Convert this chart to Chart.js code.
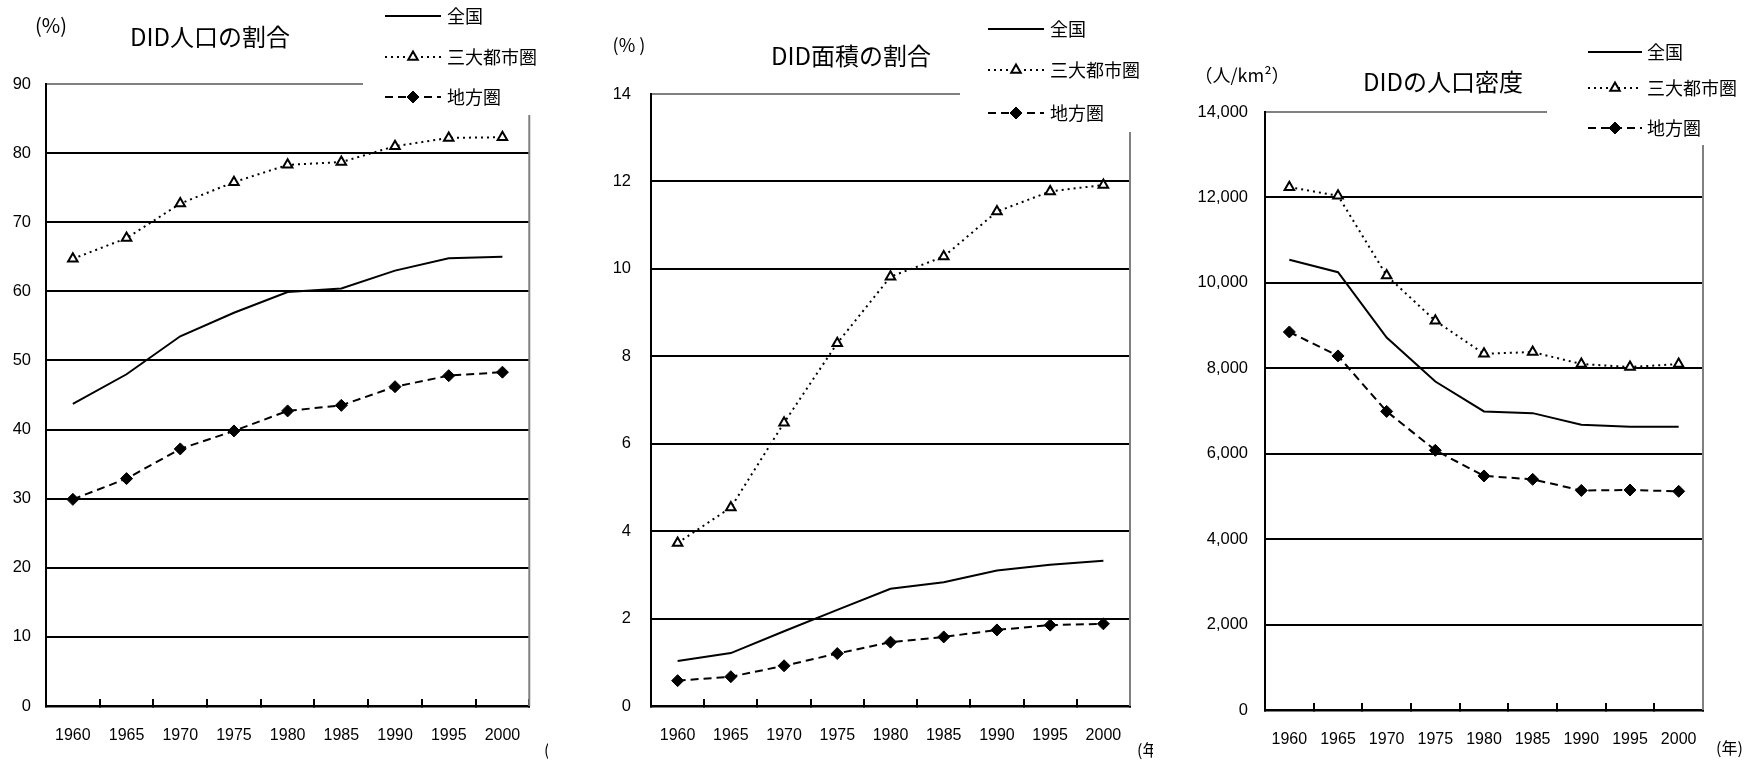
<!DOCTYPE html>
<html><head><meta charset="utf-8">
<script src="https://cdn.jsdelivr.net/npm/chart.js@4.4.1/dist/chart.umd.min.js"></script>
<style>
html,body{margin:0;padding:0;background:#fff;width:1751px;height:761px;overflow:hidden;}
canvas{position:absolute;top:0;}
</style></head><body>
<canvas id="c1" width="548" height="761" style="left:0px"></canvas>
<canvas id="c2" width="563" height="761" style="left:590px"></canvas>
<canvas id="c3" width="571" height="761" style="left:1180px"></canvas>
<script>
const years = ['1960','1965','1970','1975','1980','1985','1990','1995','2000'];
const seriesNames = ['全国','三大都市圏','地方圏'];

// DID人口の割合 (%)
const popNational = [43.7, 48.0, 53.5, 56.9, 59.9, 60.4, 63.0, 64.8, 65.0];
const popMetro    = [64.7, 67.7, 72.7, 75.8, 78.3, 78.7, 81.0, 82.2, 82.3];
const popLocal    = [29.9, 32.9, 37.2, 39.8, 42.7, 43.5, 46.2, 47.8, 48.3];

// DID面積の割合 (%)
const areaNational = [1.03, 1.21, 1.71, 2.2, 2.68, 2.83, 3.1, 3.23, 3.32];
const areaMetro    = [3.73, 4.54, 6.48, 8.3, 9.82, 10.28, 11.31, 11.77, 11.92];
const areaLocal    = [0.58, 0.67, 0.92, 1.2, 1.46, 1.58, 1.74, 1.85, 1.88];

// DIDの人口密度 (人/km²)
const densNational = [10540, 10250, 8720, 7690, 6990, 6950, 6680, 6630, 6630];
const densMetro    = [12240, 12040, 10170, 9110, 8340, 8380, 8100, 8030, 8100];
const densLocal    = [8850, 8290, 6990, 6080, 5480, 5400, 5140, 5150, 5120];

const titles = ['DID人口の割合', 'DID面積の割合', 'DIDの人口密度'];
const yUnits = ['(%)', '(% )', '（人/km²）'];
const xUnit = '(年)';
const yTicks1 = {min: 0, max: 90, step: 10};
const yTicks2 = {min: 0, max: 14, step: 2};
const yTicks3 = {min: 0, max: 14000, step: 2000};

const NUMFONT = '"Liberation Sans Narrow", "Arial Narrow", "Liberation Sans", sans-serif';
const JPFONT = '"Liberation Sans Narrow", "Noto Sans CJK JP", sans-serif';

function datasets(nat, met, loc) {
  return [
    {label: seriesNames[0], data: nat, borderColor: '#000', borderWidth: 2, pointRadius: 0, tension: 0, fill: false},
    {label: seriesNames[1], data: met, borderColor: '#000', borderWidth: 2, borderDash: [2, 4], tension: 0, fill: false,
      pointStyle: 'triangle', pointRadius: 5.5, pointBackgroundColor: '#fff', pointBorderColor: '#000', pointBorderWidth: 2},
    {label: seriesNames[2], data: loc, borderColor: '#000', borderWidth: 2, borderDash: [8, 5], tension: 0, fill: false,
      pointStyle: 'rectRot', pointRadius: 6, pointBackgroundColor: '#000', pointBorderColor: '#000', pointBorderWidth: 1}
  ];
}

function decorPlugin(spec) {
  return {
    id: 'decor',
    beforeDatasetsDraw(chart) {
      const a = chart.chartArea, ctx = chart.ctx;
      ctx.save();
      ctx.strokeStyle = '#808080';
      ctx.lineWidth = 2;
      ctx.beginPath();
      ctx.moveTo(a.right, a.top);
      ctx.lineTo(a.right, a.bottom);
      ctx.stroke();
      ctx.restore();
    },
    afterDraw(chart) {
      const ctx = chart.ctx, lg = spec.legend;
      ctx.save();
      ctx.fillStyle = '#fff';
      ctx.fillRect(lg.boxX, 0, chart.width - lg.boxX, lg.boxBottom);
      chart.data.datasets.forEach((ds, i) => {
        const y = lg.rows[i];
        ctx.strokeStyle = '#000';
        ctx.lineWidth = ds.borderWidth;
        ctx.setLineDash(ds.borderDash || []);
        ctx.beginPath();
        ctx.moveTo(lg.x0, y);
        ctx.lineTo(lg.x1, y);
        ctx.stroke();
        ctx.setLineDash([]);
        if (ds.pointRadius > 0) {
          ctx.fillStyle = ds.pointBackgroundColor;
          ctx.strokeStyle = ds.pointBorderColor;
          ctx.lineWidth = ds.pointBorderWidth;
          Chart.helpers.drawPoint(ctx, {pointStyle: ds.pointStyle, radius: ds.pointRadius, borderWidth: ds.pointBorderWidth, rotation: 0}, (lg.x0 + lg.x1) / 2, y);
        }
        ctx.fillStyle = '#000';
        ctx.font = '18px ' + JPFONT;
        ctx.textAlign = 'left';
        ctx.textBaseline = 'middle';
        ctx.fillText(ds.label, lg.textX, y);
      });
      spec.texts.forEach(t => {
        ctx.fillStyle = '#000';
        ctx.font = t.size + 'px ' + JPFONT;
        ctx.textAlign = t.align;
        ctx.textBaseline = 'middle';
        ctx.fillText(t.t, t.x, t.y);
      });
      ctx.restore();
    }
  };
}

function makeChart(id, spec) {
  const yt = spec.yTicks;
  return new Chart(document.getElementById(id), {
    type: 'line',
    data: {labels: years, datasets: spec.datasets},
    options: {
      responsive: false,
      animation: false,
      events: [],
      layout: {padding: {left: 0, top: spec.pt, right: spec.pr, bottom: 0}},
      plugins: {legend: {display: false}, tooltip: {enabled: false}, title: {display: false}},
      scales: {
        x: {
          type: 'category', offset: true,
          grid: {display: true, offset: true, drawOnChartArea: false, drawTicks: true, tickLength: -7, color: '#000', lineWidth: 2},
          border: {display: true, color: '#000', width: 2.5},
          ticks: {color: '#000', font: {family: NUMFONT, size: 16}, padding: spec.xPad, maxRotation: 0, autoSkip: false},
          afterFit: s => { s.height = spec.xh; }
        },
        y: {
          min: yt.min, max: yt.max,
          grid: {color: c => (c.tick && c.tick.value === yt.max) ? '#808080' : '#000', lineWidth: 2, drawTicks: false},
          border: {display: true, color: '#000', width: 2},
          ticks: {stepSize: yt.step, color: '#000', font: {family: NUMFONT, size: 16.5}, padding: spec.yPad,
            callback: v => spec.comma ? v.toLocaleString('en-US') : String(v)},
          afterFit: s => { s.width = spec.yw; }
        }
      }
    },
    plugins: [decorPlugin(spec)]
  });
}

makeChart('c1', {
  datasets: datasets(popNational, popMetro, popLocal), yTicks: yTicks1,
  pt: 84, pr: 14, yw: 46, xh: 55, xPad: 27, yPad: 15,
  legend: {boxX: 363, boxBottom: 115, x0: 385, x1: 441, textX: 447, rows: [16, 57, 97]},
  texts: [
    {t: yUnits[0], x: 51, y: 25, size: 20, align: 'center'},
    {t: titles[0], x: 210, y: 37, size: 24, align: 'center'},
    {t: xUnit, x: 544, y: 750, size: 16, align: 'left'}
  ]
});
makeChart('c2', {
  datasets: datasets(areaNational, areaMetro, areaLocal), yTicks: yTicks2,
  pt: 94, pr: 23, yw: 61, xh: 55, xPad: 27, yPad: 20,
  legend: {boxX: 370, boxBottom: 132, x0: 398, x1: 454, textX: 460, rows: [29, 70, 113]},
  texts: [
    {t: yUnits[1], x: 39, y: 45, size: 18, align: 'center'},
    {t: titles[1], x: 261, y: 56, size: 24, align: 'center'},
    {t: xUnit, x: 547, y: 750, size: 16, align: 'left'}
  ]
});
makeChart('c3', {
  datasets: datasets(densNational, densMetro, densLocal), yTicks: yTicks3, comma: true,
  pt: 112, pr: 48, yw: 85, xh: 51, xPad: 27, yPad: 17,
  legend: {boxX: 367, boxBottom: 145, x0: 408, x1: 462, textX: 467, rows: [52, 88, 128]},
  texts: [
    {t: yUnits[2], x: 62, y: 75, size: 18, align: 'center'},
    {t: titles[2], x: 263, y: 82, size: 24, align: 'center'},
    {t: xUnit, x: 536, y: 748, size: 16, align: 'left'}
  ]
});
</script>
</body></html>
